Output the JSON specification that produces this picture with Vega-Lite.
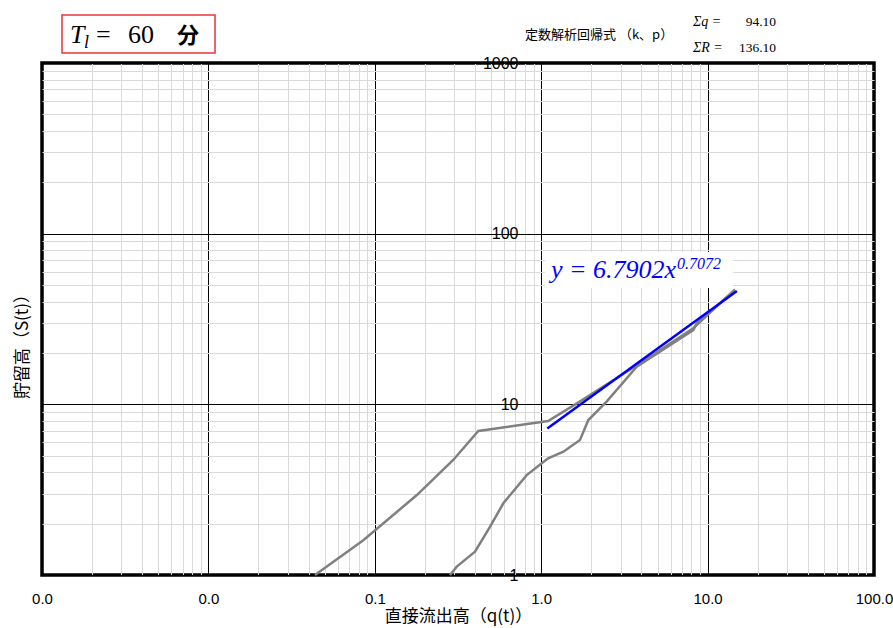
{
  "$schema": "https://vega.github.io/schema/vega-lite/v6.json",
  "width": 832,
  "height": 512,
  "autosize": {"type": "none"},
  "padding": {"left": 42, "top": 63, "right": 19, "bottom": 53},
  "background": "white",
  "config": {"view": {"stroke": "black", "strokeWidth": 3.5}, "font": "Liberation Sans"},
  "datasets": {
    "curve": [
      {"limb": "a", "i": 1, "x": 0.0437, "y": 1.0},
      {"limb": "a", "i": 2, "x": 0.0853, "y": 1.6},
      {"limb": "a", "i": 3, "x": 0.179, "y": 2.94},
      {"limb": "a", "i": 4, "x": 0.296, "y": 4.72},
      {"limb": "a", "i": 5, "x": 0.419, "y": 6.98},
      {"limb": "a", "i": 6, "x": 1.1, "y": 7.98},
      {"limb": "a", "i": 7, "x": 1.63, "y": 10.1},
      {"limb": "a", "i": 8, "x": 3.93, "y": 17.4},
      {"limb": "a", "i": 9, "x": 8.2, "y": 27.9},
      {"limb": "a", "i": 10, "x": 14.6, "y": 47.2},
      {"limb": "b", "i": 1, "x": 0.283, "y": 1.0},
      {"limb": "b", "i": 2, "x": 0.311, "y": 1.12},
      {"limb": "b", "i": 3, "x": 0.4, "y": 1.37},
      {"limb": "b", "i": 4, "x": 0.493, "y": 1.92},
      {"limb": "b", "i": 5, "x": 0.592, "y": 2.63},
      {"limb": "b", "i": 6, "x": 0.818, "y": 3.85},
      {"limb": "b", "i": 7, "x": 1.1, "y": 4.83},
      {"limb": "b", "i": 8, "x": 1.36, "y": 5.28},
      {"limb": "b", "i": 9, "x": 1.71, "y": 6.18},
      {"limb": "b", "i": 10, "x": 1.92, "y": 8.09},
      {"limb": "b", "i": 11, "x": 2.48, "y": 10.4},
      {"limb": "b", "i": 12, "x": 3.75, "y": 16.6},
      {"limb": "b", "i": 13, "x": 8.2, "y": 27.2},
      {"limb": "b", "i": 14, "x": 8.6, "y": 29.8},
      {"limb": "b", "i": 15, "x": 14.5, "y": 46.2}
    ],
    "fit": [
      {"x": 1.088, "y": 7.21},
      {"x": 15.0, "y": 46.1}
    ]
  },
  "encoding": {
    "x": {
      "field": "x",
      "type": "quantitative",
      "scale": {"type": "log", "domain": [0.001, 100]},
      "axis": {
        "title": "直接流出高（q(t)）",
        "titleFont": "Noto Sans CJK JP",
        "titleFontSize": 17,
        "titleFontWeight": "normal",
        "titleColor": "black",
        "titlePadding": 2,
        "values": [0.001, 0.002, 0.003, 0.004, 0.005, 0.006, 0.007, 0.008, 0.009, 0.01, 0.02, 0.03, 0.04, 0.05, 0.06, 0.07, 0.08, 0.09, 0.1, 0.2, 0.3, 0.4, 0.5, 0.6, 0.7, 0.8, 0.9, 1, 2, 3, 4, 5, 6, 7, 8, 9, 10, 20, 30, 40, 50, 60, 70, 80, 90, 100],
        "labelExpr": "abs(log(datum.value)/LN10 - round(log(datum.value)/LN10)) < 0.01 ? format(datum.value, '.1f') : ''",
        "labelFont": "Liberation Sans",
        "labelFontSize": 15,
        "labelColor": "black",
        "labelPadding": 16,
        "labelOverlap": false,
        "labelFlush": false,
        "ticks": false,
        "tickSize": 0,
        "domain": false,
        "grid": true,
        "gridColor": {"condition": {"test": "abs(log(datum.value)/LN10 - round(log(datum.value)/LN10)) < 0.01", "value": "#000000"}, "value": "#d9d9d9"},
        "gridWidth": 1,
        "gridOpacity": 1
      }
    },
    "y": {
      "field": "y",
      "type": "quantitative",
      "scale": {"type": "log", "domain": [1, 1000]},
      "axis": {
        "title": "貯留高（S(t)）",
        "titleFont": "Noto Sans CJK JP",
        "titleFontSize": 17,
        "titleFontWeight": "normal",
        "titleColor": "black",
        "titleX": -519,
        "titleY": 279,
        "titleAngle": -90,
        "titleAlign": "center",
        "titleBaseline": "middle",
        "offset": -499,
        "values": [1, 2, 3, 4, 5, 6, 7, 8, 9, 10, 20, 30, 40, 50, 60, 70, 80, 90, 100, 200, 300, 400, 500, 600, 700, 800, 900, 1000],
        "labelExpr": "abs(log(datum.value)/LN10 - round(log(datum.value)/LN10)) < 0.01 ? format(datum.value, 'd') : ''",
        "labelFont": "Liberation Sans",
        "labelFontSize": 16,
        "labelColor": "black",
        "labelPadding": 23,
        "labelOverlap": false,
        "labelFlush": false,
        "ticks": false,
        "tickSize": 0,
        "domain": false,
        "grid": true,
        "gridColor": {"condition": {"test": "abs(log(datum.value)/LN10 - round(log(datum.value)/LN10)) < 0.01", "value": "#000000"}, "value": "#d9d9d9"},
        "gridWidth": 1,
        "gridOpacity": 1
      }
    }
  },
  "layer": [
    {
      "data": {"values": [{"x": 1.054, "x2": 14.2, "y": 78.0, "y2": 48.0}]},
      "mark": {"type": "rect", "fill": "white", "stroke": null},
      "encoding": {"x2": {"field": "x2"}, "y2": {"field": "y2"}}
    },
    {
      "data": {"name": "curve"},
      "mark": {"type": "line", "color": "#808080", "strokeWidth": 2.5},
      "encoding": {"detail": {"field": "limb"}, "order": {"field": "i", "type": "quantitative"}}
    },
    {
      "data": {"name": "fit"},
      "mark": {"type": "line", "color": "#0000ff", "strokeWidth": 2.5},
      "encoding": {}
    },
    {
      "data": {"values": [{"x": 1.145, "y": 54.9, "t": "y = 6.7902x"}]},
      "mark": {"type": "text", "font": "Liberation Serif", "fontStyle": "italic", "fontSize": 26, "color": "#0000ff", "align": "left", "baseline": "alphabetic"},
      "encoding": {"text": {"field": "t"}}
    },
    {
      "data": {"values": [{"x": 6.55, "y": 62.0, "t": "0.7072"}]},
      "mark": {"type": "text", "font": "Liberation Serif", "fontStyle": "italic", "fontSize": 16, "color": "#0000ff", "align": "left", "baseline": "alphabetic"},
      "encoding": {"text": {"field": "t"}}
    },
    {
      "data": {"values": [{"x": 0.001319, "x2": 0.01096, "y": 1908, "y2": 1143}]},
      "mark": {"type": "rect", "fill": null, "fillOpacity": 0, "stroke": "#e8343a", "strokeWidth": 1.5, "clip": false},
      "encoding": {"x2": {"field": "x2"}, "y2": {"field": "y2"}}
    },
    {
      "data": {"values": [{"x": 0.001473, "y": 1308, "t": "T"}]},
      "mark": {"type": "text", "font": "Liberation Serif", "fontStyle": "italic", "fontSize": 26, "color": "black", "align": "left", "baseline": "alphabetic"},
      "encoding": {"text": {"field": "t"}}
    },
    {
      "data": {"values": [{"x": 0.001788, "y": 1218, "t": "l"}]},
      "mark": {"type": "text", "font": "Liberation Serif", "fontStyle": "italic", "fontSize": 18, "color": "black", "align": "left", "baseline": "alphabetic"},
      "encoding": {"text": {"field": "t"}}
    },
    {
      "data": {"values": [{"x": 0.00211, "y": 1308, "t": "="}, {"x": 0.003287, "y": 1308, "t": "60"}]},
      "mark": {"type": "text", "font": "Liberation Serif", "fontSize": 26, "color": "black", "align": "left", "baseline": "alphabetic"},
      "encoding": {"text": {"field": "t"}}
    },
    {
      "data": {"values": [{"x": 0.00648, "y": 1308, "t": "分"}]},
      "mark": {"type": "text", "font": "Noto Sans CJK JP", "fontSize": 22, "fontWeight": "bold", "color": "black", "align": "left", "baseline": "alphabetic"},
      "encoding": {"text": {"field": "t"}}
    },
    {
      "data": {"values": [{"x": 0.799, "y": 1457, "t": "定数解析回帰式 （k、p）"}]},
      "mark": {"type": "text", "font": "Noto Sans CJK JP", "fontSize": 13, "color": "black", "align": "left", "baseline": "middle"},
      "encoding": {"text": {"field": "t"}}
    },
    {
      "data": {"values": [{"x": 8.17, "y": 1736, "t": "Σq ="}, {"x": 8.17, "y": 1223, "t": "ΣR ="}]},
      "mark": {"type": "text", "font": "Liberation Serif", "fontStyle": "italic", "fontSize": 14, "color": "black", "align": "left", "baseline": "middle"},
      "encoding": {"text": {"field": "t"}}
    },
    {
      "data": {"values": [{"x": 25.8, "y": 1736, "t": "94.10"}, {"x": 25.8, "y": 1223, "t": "136.10"}]},
      "mark": {"type": "text", "font": "Liberation Serif", "fontSize": 13.5, "color": "black", "align": "right", "baseline": "middle"},
      "encoding": {"text": {"field": "t"}}
    }
  ]
}
